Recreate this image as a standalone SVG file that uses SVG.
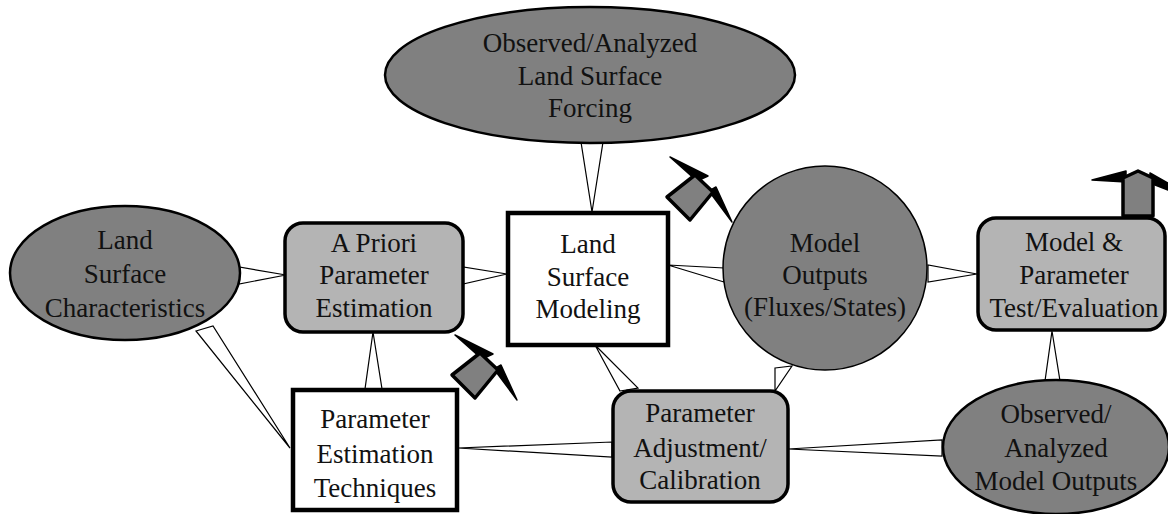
<svg xmlns="http://www.w3.org/2000/svg" width="1168" height="514" viewBox="0 0 1168 514">
<style>
.ell{fill:#808080;stroke:#000;stroke-width:2.5}
.rbox{fill:#b4b4b4;stroke:#000;stroke-width:3.5}
.wbox{fill:#fff;stroke:#000;stroke-width:4.5}
.t{font-size:27px;fill:#111;text-anchor:middle}
.w{fill:#fff;stroke:#000;stroke-width:1.2;stroke-linejoin:miter}
.ptr{fill:#808080;stroke:#000;stroke-width:3.5;stroke-linejoin:round}
.wing{fill:#000;stroke:#000;stroke-width:1.5;stroke-linejoin:round}
</style>
<defs>
<g id="pointer">
<polygon class="wing" points="670,157 708,176 697,181"/>
<polygon class="wing" points="709,191 716,187 732,222"/>
<polygon class="ptr" points="667,197 690,220 713,192 695,175"/>
</g>
</defs>
<rect width="1168" height="514" fill="#fff"/>
<g id="connectors">
<polygon class="w" points="581,142 603,142 592,212"/>
<polygon class="w" points="239,267 239,284 286,275"/>
<polygon class="w" points="463,267 463,284 507,274"/>
<polygon class="w" points="724,268 724,282 668,265"/>
<polygon class="w" points="928,265 928,282 977,274"/>
<polygon class="w" points="1045,381 1060,381 1052,331"/>
<polygon class="w" points="196,331 213,326 290,448"/>
<polygon class="w" points="365,389 382,389 373,332"/>
<polygon class="w" points="612,442 612,457 458,448"/>
<polygon class="w" points="620,391 638,388 595,345"/>
<polygon class="w" points="775,368 792,366 775,391"/>
<polygon class="w" points="942,440 942,456 788,449"/>
</g>
<g font-family="Liberation Serif, Times New Roman, DejaVu Serif, Noto Serif, serif">
<g id="forcing">
<ellipse class="ell" cx="590" cy="75" rx="205" ry="68"/>
<text class="t" x="590" y="52">Observed/Analyzed</text>
<text class="t" x="590" y="85">Land Surface</text>
<text class="t" x="590" y="117">Forcing</text>
</g>
<g id="lsc">
<ellipse class="ell" cx="125" cy="273" rx="115" ry="67"/>
<text class="t" x="125" y="249">Land</text>
<text class="t" x="125" y="283">Surface</text>
<text class="t" x="125" y="317">Characteristics</text>
</g>
<g id="apriori">
<rect class="rbox" x="285" y="223" width="178" height="109" rx="18"/>
<text class="t" x="374" y="252">A Priori</text>
<text class="t" x="374" y="284">Parameter</text>
<text class="t" x="374" y="317">Estimation</text>
</g>
<g id="lsm">
<rect class="wbox" x="508" y="213" width="160" height="132"/>
<text class="t" x="588" y="253">Land</text>
<text class="t" x="588" y="286">Surface</text>
<text class="t" x="588" y="318">Modeling</text>
</g>
<g id="outputs">
<circle cx="825" cy="268" r="102" fill="#808080" stroke="#000" stroke-width="1.5"/>
<text class="t" x="825" y="252">Model</text>
<text class="t" x="825" y="284">Outputs</text>
<text class="t" x="825" y="316">(Fluxes/States)</text>
</g>
<g id="testeval">
<rect class="rbox" x="978" y="218" width="187" height="112" rx="18"/>
<text class="t" x="1074" y="251">Model &amp;</text>
<text class="t" x="1074" y="284">Parameter</text>
<text class="t" x="1074" y="317">Test/Evaluation</text>
</g>
<g id="pet">
<rect class="wbox" x="293" y="390" width="164" height="120"/>
<text class="t" x="375" y="428">Parameter</text>
<text class="t" x="375" y="463">Estimation</text>
<text class="t" x="375" y="497">Techniques</text>
</g>
<g id="calib">
<rect class="rbox" x="613" y="391" width="175" height="111" rx="18"/>
<text class="t" x="700" y="422">Parameter</text>
<text class="t" x="700" y="457">Adjustment/</text>
<text class="t" x="700" y="489">Calibration</text>
</g>
<g id="obsout">
<ellipse class="ell" cx="1056" cy="447" rx="113" ry="67"/>
<text class="t" x="1056" y="423">Observed/</text>
<text class="t" x="1056" y="457">Analyzed</text>
<text class="t" x="1056" y="490">Model Outputs</text>
</g>
</g>
<g id="pointer1">
<use href="#pointer" transform="translate(-215,178)"/>
</g>
<g id="pointer2">
<use href="#pointer"/>
</g>
<g id="pointer3">
<polygon class="wing" points="1092,180 1126,171 1126,182"/>
<polygon class="wing" points="1150,173 1168,183 1168,190 1150,183"/>
<polygon class="ptr" points="1123,216 1123,178 1138,171 1153,178 1153,216"/>
</g>
</svg>
